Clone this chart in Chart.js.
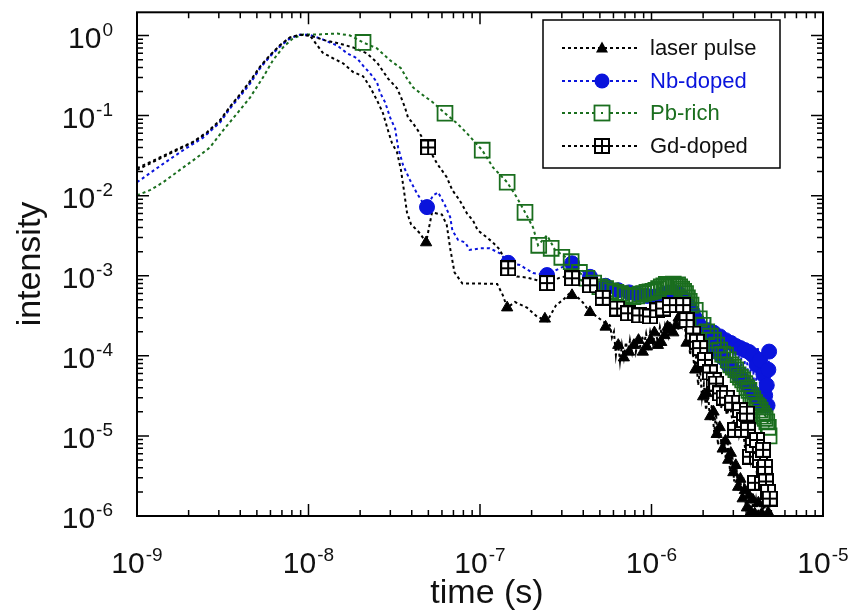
<!DOCTYPE html>
<html>
<head>
<meta charset="utf-8">
<title>intensity vs time</title>
<script src="https://cdn.jsdelivr.net/npm/chart.js@4.4.0/dist/chart.umd.min.js"></script>
<style>
  html, body { margin: 0; padding: 0; background: #fff; }
  #wrap { width: 858px; height: 613px; }
</style>
</head>
<body>
<div id="wrap"><canvas id="chart" width="858" height="613"></canvas></div>
<script>
// ---- axis ranges (log-log) ----
const xMin = 1e-9, xMax = 1e-5;
const yMin = 1e-6, yMax = 1.95;
const xDecades = [-9, -8, -7, -6, -5];
const yDecades = [-6, -5, -4, -3, -2, -1, 0];

// ---- laser pulse (black dotted, triangles) ----
const laserT = [
  1.0e-9, 1.27e-9, 1.62e-9, 2.12e-9, 2.56e-9, 3.05e-9, 3.49e-9, 3.99e-9, 4.56e-9, 5.22e-9,
  5.97e-9, 6.83e-9, 7.8e-9, 8.9e-9, 1.02e-8, 1.21e-8, 1.39e-8, 1.59e-8, 1.82e-8, 2.08e-8,
  2.28e-8, 2.51e-8, 2.72e-8, 2.91e-8, 3.07e-8, 3.28e-8, 3.46e-8, 3.60e-8, 3.75e-8, 3.96e-8,
  4.46e-8, 4.85e-8, 5.25e-8, 6.0e-8, 6.4e-8, 6.7e-8, 7.1e-8, 7.9e-8, 1.0e-7, 1.26e-7,
  1.36e-7, 1.44e-7, 1.60e-7, 1.88e-7, 2.15e-7, 2.46e-7, 2.78e-7, 3.05e-7, 3.35e-7, 3.68e-7,
  3.99e-7, 4.38e-7, 4.8e-7, 5.2e-7, 5.73e-7, 5.88e-7, 6.04e-7, 6.2e-7, 6.37e-7, 6.55e-7,
  6.72e-7, 6.9e-7, 7.1e-7, 7.3e-7, 7.49e-7, 7.7e-7, 7.91e-7, 8.1e-7, 8.35e-7, 8.57e-7,
  8.81e-7, 9.05e-7, 9.3e-7, 9.55e-7, 9.82e-7, 1.02e-6, 1.05e-6, 1.09e-6, 1.12e-6, 1.17e-6,
  1.20e-6, 1.25e-6, 1.28e-6, 1.34e-6, 1.37e-6, 1.43e-6, 1.47e-6, 1.51e-6, 1.55e-6, 1.59e-6,
  1.63e-6, 1.68e-6, 1.72e-6, 1.77e-6, 1.82e-6, 1.87e-6, 1.92e-6, 1.97e-6, 2.02e-6, 2.08e-6,
  2.14e-6, 2.19e-6, 2.25e-6, 2.32e-6, 2.38e-6, 2.44e-6, 2.51e-6, 2.58e-6, 2.64e-6, 2.72e-6,
  2.79e-6, 2.87e-6, 2.95e-6, 3.03e-6, 3.11e-6, 3.2e-6, 3.28e-6, 3.37e-6, 3.46e-6, 3.56e-6,
  3.65e-6, 3.75e-6, 3.85e-6, 3.96e-6, 4.07e-6, 4.18e-6, 4.29e-6, 4.41e-6, 4.53e-6, 4.65e-6,
  4.78e-6
];
const laserI = [
  0.021, 0.027, 0.035, 0.046, 0.060, 0.085, 0.127, 0.18, 0.26, 0.40,
  0.56, 0.75, 0.94, 1.02, 1.0, 0.61, 0.52, 0.45, 0.35, 0.31,
  0.23, 0.155, 0.107, 0.065, 0.045, 0.035, 0.021, 0.0117, 0.0062, 0.0044,
  0.0034, 0.0026, 0.0062, 0.0058, 0.0043, 0.0022, 0.0011, 8.0e-4, 8.0e-4, 7.9e-4,
  5.7e-4, 4.0e-4, 4.7e-4, 4.0e-4, 3.1e-4, 2.7e-4, 4.3e-4, 5.0e-4, 6.1e-4, 5.5e-4,
  4.6e-4, 3.5e-4, 3.1e-4, 2.7e-4, 2.4e-4, 1.7e-4, 2.0e-4, 1.02e-4, 1.57e-4, 8.5e-5,
  1.36e-4, 9.5e-5, 1.48e-4, 1.02e-4, 1.57e-4, 1.12e-4, 1.66e-4, 1.12e-4, 1.57e-4, 1.3e-4,
  1.75e-4, 1.4e-4, 1.9e-4, 1.36e-4, 2.0e-4, 1.4e-4, 2.1e-4, 1.48e-4, 2.3e-4, 1.57e-4,
  2.4e-4, 1.76e-4, 2.7e-4, 2.0e-4, 3.0e-4, 2.1e-4, 3.2e-4, 2.4e-4, 3.2e-4, 1.57e-4,
  2.1e-4, 1.02e-4, 1.48e-4, 7.7e-5, 9.7e-5, 4.3e-5, 6.7e-5, 3.0e-5, 4.4e-5, 2.1e-5,
  3.4e-5, 1.58e-5, 2.5e-5, 1.1e-5, 1.9e-5, 7.7e-6, 1.3e-5, 5.8e-6, 1.0e-5, 4.7e-6,
  8.0e-6, 3.6e-6, 6.3e-6, 2.7e-6, 4.9e-6, 2.0e-6, 3.3e-6, 1.6e-6, 2.4e-6, 1.24e-6,
  2.0e-6, 1.1e-6, 1.7e-6, 1.05e-6, 1.6e-6, 1.05e-6, 1.5e-6, 1.03e-6, 1.4e-6, 1.05e-6,
  1.35e-6
];
const laserMarkT = [
  4.85e-8, 1.44e-7, 2.39e-7, 3.44e-7, 4.38e-7, 5.4e-7, 6.4e-7, 6.9e-7, 7.4e-7, 7.9e-7,
  8.4e-7, 8.9e-7, 9.4e-7, 9.9e-7, 1.04e-6, 1.09e-6, 1.14e-6, 1.19e-6, 1.24e-6, 1.29e-6,
  1.34e-6, 1.39e-6, 1.44e-6, 1.5e-6, 1.6e-6, 1.7e-6, 1.8e-6, 1.9e-6, 2.0e-6, 2.1e-6,
  2.2e-6, 2.3e-6, 2.4e-6, 2.5e-6, 2.6e-6, 2.7e-6, 2.8e-6, 2.9e-6, 3.0e-6, 3.1e-6,
  3.2e-6, 3.3e-6, 3.4e-6, 3.5e-6, 3.6e-6, 3.7e-6, 3.8e-6, 3.9e-6, 4.0e-6, 4.2e-6,
  4.4e-6, 4.6e-6, 4.8e-6
];
const laserMarkI = [
  0.0026, 4.0e-4, 2.9e-4, 5.7e-4, 3.5e-4, 2.3e-4, 1.36e-4, 9.5e-5, 1.12e-4, 1.36e-4,
  1.57e-4, 1.12e-4, 1.3e-4, 1.57e-4, 1.95e-4, 1.36e-4, 1.48e-4, 1.8e-4, 2.3e-4, 2.1e-4,
  1.95e-4, 2.4e-4, 3.0e-4, 3.4e-4, 1.45e-4, 1.48e-4, 6.7e-5, 6.9e-5, 3.1e-5, 3.4e-5,
  1.75e-5, 2.0e-5, 1.05e-5, 1.28e-5, 6.9e-6, 8.7e-6, 5.0e-6, 6.1e-6, 3.5e-6, 4.3e-6,
  2.3e-6, 2.9e-6, 1.65e-6, 2.1e-6, 1.27e-6, 1.8e-6, 1.13e-6, 1.59e-6, 1.07e-6, 1.46e-6,
  1.07e-6, 1.43e-6, 1.1e-6
];

// ---- Nb-doped (blue dotted, filled circles) ----
const nbT = [
  1.0e-9, 1.42e-9, 1.86e-9, 2.43e-9, 3.05e-9, 3.49e-9, 3.99e-9, 4.56e-9, 5.22e-9, 5.97e-9,
  6.83e-9, 7.8e-9, 8.9e-9, 1.0e-8, 1.17e-8, 1.47e-8, 1.68e-8, 1.92e-8, 2.08e-8, 2.28e-8,
  2.51e-8, 2.61e-8, 2.8e-8, 2.99e-8, 3.2e-8, 3.33e-8, 3.56e-8, 3.91e-8, 4.29e-8, 4.65e-8,
  4.91e-8, 5.32e-8, 5.7e-8, 6.25e-8, 6.7e-8, 6.9e-8, 7.45e-8, 8.2e-8, 8.7e-8, 1.0e-7,
  1.14e-7, 1.31e-7, 1.46e-7, 1.71e-7, 2.04e-7, 2.46e-7, 2.93e-7, 3.44e-7, 4.38e-7, 5.5e-7,
  7.2e-7, 9.2e-7, 1.12e-6, 1.37e-6, 1.57e-6, 1.63e-6, 1.72e-6, 1.79e-6, 1.87e-6, 1.94e-6,
  2.02e-6, 2.11e-6, 2.19e-6, 2.28e-6, 2.38e-6, 2.48e-6, 2.58e-6, 2.68e-6, 2.79e-6, 2.91e-6,
  3.03e-6, 3.15e-6, 3.28e-6, 3.42e-6, 3.56e-6, 3.7e-6, 3.85e-6, 4.01e-6, 4.18e-6, 4.35e-6,
  4.53e-6, 4.72e-6, 4.85e-6
];
const nbI = [
  0.0147, 0.025, 0.037, 0.053, 0.082, 0.123, 0.174, 0.25, 0.39, 0.55,
  0.73, 0.92, 1.02, 1.03, 0.92, 0.75, 0.60, 0.52, 0.42, 0.34,
  0.26, 0.195, 0.146, 0.095, 0.069, 0.040, 0.024, 0.0156, 0.0107, 0.0081,
  0.0072, 0.0101, 0.0110, 0.0076, 0.0054, 0.0037, 0.0028, 0.0026, 0.0021, 0.0022,
  0.0022, 0.0019, 0.00145, 0.00136, 0.00108, 0.00102, 0.00125, 0.00143, 9.7e-4, 7.3e-4,
  6.2e-4, 5.5e-4, 5.7e-4, 6.3e-4, 5.0e-4, 4.3e-4, 3.5e-4, 2.3e-4, 3.2e-4, 1.66e-4,
  2.8e-4, 1.36e-4, 2.4e-4, 1.12e-4, 2.3e-4, 9.5e-5, 2.2e-4, 7.2e-5, 1.9e-4, 5.8e-5,
  1.75e-4, 4.6e-5, 1.57e-4, 4.0e-5, 1.48e-4, 3.3e-5, 1.36e-4, 2.8e-5, 1.25e-4, 2.4e-5,
  1.12e-4, 2.0e-5, 1.12e-4
];
const nbMarkT = [
  4.91e-8, 1.46e-7, 2.46e-7, 3.44e-7, 4.38e-7, 5.4e-7, 6.4e-7, 7.4e-7, 8.4e-7, 9.4e-7,
  1.04e-6, 1.14e-6, 1.24e-6, 1.34e-6, 1.44e-6, 1.54e-6, 1.64e-6, 1.74e-6, 1.84e-6, 1.9e-6,
  2.0e-6, 2.1e-6, 2.2e-6, 2.3e-6, 2.4e-6, 2.5e-6, 2.6e-6, 2.7e-6, 2.8e-6, 2.9e-6,
  3.0e-6, 3.1e-6, 3.2e-6, 3.3e-6, 3.4e-6, 3.5e-6, 3.6e-6, 3.7e-6, 3.8e-6, 3.9e-6,
  4.0e-6, 4.1e-6, 4.2e-6, 4.3e-6, 4.4e-6, 4.5e-6, 4.6e-6, 4.7e-6, 4.75e-6, 4.8e-6,
  4.85e-6
];
const nbMarkI = [
  0.0072, 0.00145, 0.00102, 0.00143, 9.7e-4, 7.5e-4, 6.6e-4, 6.2e-4, 5.8e-4, 5.6e-4,
  5.5e-4, 5.8e-4, 6.1e-4, 6.3e-4, 6.0e-4, 5.2e-4, 4.3e-4, 3.5e-4, 2.8e-4, 2.4e-4,
  1.66e-4, 2.1e-4, 1.36e-4, 1.95e-4, 1.12e-4, 1.75e-4, 9.5e-5, 1.57e-4, 7.7e-5, 1.45e-4,
  6.7e-5, 1.33e-4, 5.8e-5, 1.25e-4, 5.0e-5, 1.18e-4, 4.3e-5, 1.12e-4, 3.7e-5, 1.02e-4,
  3.2e-5, 7.7e-5, 2.8e-5, 8.9e-5, 2.4e-5, 5.8e-5, 3.2e-5, 4.3e-5, 2.4e-5, 6.7e-5,
  1.13e-4
];

// ---- Pb-rich (green dotted, open squares) ----
const pbT = [
  1.0e-9, 1.19e-9, 1.42e-9, 1.78e-9, 2.24e-9, 2.66e-9, 3.17e-9, 3.83e-9, 4.56e-9, 5.43e-9,
  6.2e-9, 7.1e-9, 8.1e-9, 9.3e-9, 1.12e-8, 1.47e-8, 1.75e-8, 2.08e-8, 2.51e-8, 2.99e-8,
  3.46e-8, 3.75e-8, 4.07e-8, 4.65e-8, 5.32e-8, 6.25e-8, 7.35e-8, 8.4e-8, 1.03e-7, 1.19e-7,
  1.44e-7, 1.64e-7, 1.83e-7, 2.04e-7, 2.18e-7, 2.46e-7, 2.74e-7, 3.35e-7, 3.83e-7, 4.8e-7,
  5.97e-7, 7.8e-7, 1.02e-6, 1.17e-6, 1.28e-6, 1.47e-6, 1.61e-6, 1.84e-6, 2.0e-6, 2.28e-6,
  2.71e-6, 3.15e-6, 3.37e-6, 3.65e-6, 4.29e-6, 4.65e-6, 4.85e-6
];
const pbI = [
  0.0101, 0.0117, 0.0147, 0.021, 0.030, 0.040, 0.065, 0.106, 0.168, 0.30,
  0.49, 0.71, 0.92, 1.03, 1.03, 1.06, 1.0, 0.82, 0.69, 0.49,
  0.39, 0.29, 0.225, 0.18, 0.146, 0.107, 0.080, 0.060, 0.037, 0.0226,
  0.0147, 0.0095, 0.0062, 0.0040, 0.0024, 0.0032, 0.0021, 0.00157, 0.00108, 7.3e-4,
  6.2e-4, 5.5e-4, 6.4e-4, 7.6e-4, 7.5e-4, 7.4e-4, 5.8e-4, 3.7e-4, 2.6e-4, 1.75e-4,
  1.18e-4, 7.4e-5, 5.0e-5, 3.7e-5, 2.3e-5, 1.72e-5, 1.28e-5
];
const pbMarkT = [
  2.08e-8, 6.25e-8, 1.03e-7, 1.44e-7, 1.83e-7, 2.2e-7, 2.6e-7, 3.0e-7, 3.4e-7, 3.8e-7,
  4.2e-7, 4.6e-7, 5.0e-7, 5.4e-7, 5.8e-7, 6.2e-7, 6.6e-7, 7.0e-7, 7.4e-7, 7.8e-7,
  8.2e-7, 8.6e-7, 9.0e-7, 9.4e-7, 9.8e-7, 1.02e-6, 1.06e-6, 1.1e-6, 1.14e-6, 1.18e-6,
  1.22e-6, 1.26e-6, 1.3e-6, 1.34e-6, 1.38e-6, 1.42e-6, 1.46e-6, 1.5e-6, 1.54e-6, 1.58e-6,
  1.62e-6, 1.66e-6, 1.7e-6, 1.8e-6, 1.9e-6, 2.0e-6, 2.1e-6, 2.2e-6, 2.3e-6, 2.4e-6,
  2.5e-6, 2.6e-6, 2.7e-6, 2.8e-6, 2.9e-6, 3.0e-6, 3.1e-6, 3.2e-6, 3.3e-6, 3.4e-6,
  3.5e-6, 3.6e-6, 3.7e-6, 3.8e-6, 3.9e-6, 4.0e-6, 4.1e-6, 4.2e-6, 4.3e-6, 4.4e-6,
  4.5e-6, 4.6e-6, 4.7e-6, 4.8e-6, 4.85e-6
];
const pbMarkI = [
  0.82, 0.107, 0.037, 0.0147, 0.0062, 0.0024, 0.0022, 0.0017, 0.0015, 0.0011,
  9.3e-4, 8.1e-4, 7.3e-4, 6.9e-4, 6.5e-4, 6.2e-4, 6.0e-4, 5.7e-4, 5.6e-4, 5.5e-4,
  5.6e-4, 5.9e-4, 6.0e-4, 6.2e-4, 6.3e-4, 6.4e-4, 6.6e-4, 6.9e-4, 7.3e-4, 7.5e-4,
  7.8e-4, 7.3e-4, 7.6e-4, 7.9e-4, 7.5e-4, 7.7e-4, 7.3e-4, 6.8e-4, 6.4e-4, 6.0e-4,
  5.3e-4, 4.8e-4, 4.3e-4, 3.7e-4, 2.9e-4, 2.4e-4, 2.0e-4, 1.76e-4, 1.57e-4, 1.36e-4,
  1.18e-4, 1.05e-4, 1.02e-4, 8.9e-5, 7.7e-5, 7.2e-5, 6.7e-5, 5.8e-5, 5.4e-5, 5.0e-5,
  4.5e-5, 4.0e-5, 3.7e-5, 3.2e-5, 2.9e-5, 2.6e-5, 2.4e-5, 2.3e-5, 2.1e-5, 1.9e-5,
  1.76e-5, 1.65e-5, 1.5e-5, 1.28e-5, 1.0e-5
];

// ---- Gd-doped (black dotted, crossed squares) ----
const gdT = [
  1.0e-9, 1.27e-9, 1.62e-9, 2.12e-9, 2.56e-9, 3.05e-9, 3.49e-9, 3.99e-9, 4.56e-9, 5.22e-9,
  5.97e-9, 6.83e-9, 7.8e-9, 8.9e-9, 1.02e-8, 1.25e-8, 1.53e-8, 1.82e-8, 2.19e-8, 2.51e-8,
  2.91e-8, 3.28e-8, 3.46e-8, 3.65e-8, 3.8e-8, 4.07e-8, 4.35e-8, 4.98e-8, 5.63e-8, 6.4e-8,
  6.9e-8, 7.6e-8, 8.4e-8, 9.1e-8, 9.7e-8, 1.1e-7, 1.19e-7, 1.31e-7, 1.46e-7, 1.64e-7,
  1.88e-7, 2.15e-7, 2.46e-7, 2.93e-7, 3.44e-7, 4.38e-7, 5.2e-7, 6.3e-7, 7.5e-7, 8.9e-7,
  1.08e-6, 1.34e-6, 1.53e-6, 1.68e-6, 1.92e-6, 1.99e-6, 2.08e-6, 2.16e-6, 2.25e-6, 2.35e-6,
  2.44e-6, 2.54e-6, 2.64e-6, 2.75e-6, 2.87e-6, 2.99e-6, 3.11e-6, 3.24e-6, 3.37e-6, 3.51e-6,
  3.65e-6, 3.8e-6, 3.96e-6, 4.12e-6, 4.29e-6, 4.47e-6, 4.59e-6, 4.72e-6, 4.85e-6
];
const gdI = [
  0.022, 0.028, 0.036, 0.047, 0.062, 0.088, 0.13, 0.185, 0.27, 0.41,
  0.57, 0.76, 0.95, 1.02, 1.0, 0.87, 0.79, 0.71, 0.60, 0.46,
  0.29, 0.22, 0.17, 0.127, 0.095, 0.08, 0.065, 0.040, 0.025, 0.017,
  0.0117, 0.0088, 0.0060, 0.0049, 0.0037, 0.0030, 0.0026, 0.0021, 0.00125, 9.8e-4,
  9.5e-4, 8.8e-4, 8.1e-4, 9.5e-4, 1.02e-3, 7.6e-4, 5.3e-4, 3.9e-4, 3.2e-4, 3.0e-4,
  3.6e-4, 4.6e-4, 4.3e-4, 2.6e-4, 1.25e-4, 7.6e-5, 8.9e-5, 4.7e-5, 5.3e-5, 3.0e-5,
  3.7e-5, 2.2e-5, 3.0e-5, 1.83e-5, 2.4e-5, 1.37e-5, 2.1e-5, 1.03e-5, 1.58e-5, 7.1e-6,
  1.28e-5, 5.0e-6, 8.9e-6, 3.3e-6, 6.3e-6, 2.2e-6, 4.0e-6, 1.59e-6, 2.4e-6
];
const gdMarkT = [
  4.98e-8, 1.46e-7, 2.46e-7, 3.44e-7, 4.38e-7, 5.2e-7, 6.3e-7, 7.3e-7, 8.5e-7, 9.8e-7,
  1.08e-6, 1.17e-6, 1.28e-6, 1.4e-6, 1.53e-6, 1.6e-6, 1.75e-6, 1.84e-6, 1.92e-6, 2.05e-6,
  2.19e-6, 2.3e-6, 2.38e-6, 2.51e-6, 2.64e-6, 2.75e-6, 2.95e-6, 3.07e-6, 3.28e-6, 3.46e-6,
  3.6e-6, 3.65e-6, 3.75e-6, 3.9e-6, 4.01e-6, 4.12e-6, 4.29e-6, 4.47e-6, 4.53e-6, 4.59e-6,
  4.65e-6, 4.78e-6, 4.9e-6
];
const gdMarkI = [
  0.040, 1.24e-3, 8.1e-4, 9.3e-4, 7.6e-4, 5.3e-4, 3.9e-4, 3.4e-4, 3.2e-4, 3.1e-4,
  3.7e-4, 3.9e-4, 4.3e-4, 4.3e-4, 4.3e-4, 2.8e-4, 1.9e-4, 1.5e-4, 1.25e-4, 8.9e-5,
  6.2e-5, 5.0e-5, 4.5e-5, 3.4e-5, 3.0e-5, 3.0e-5, 2.6e-5, 1.19e-5, 2.1e-5, 1.58e-5,
  1.9e-5, 1.19e-5, 5.5e-6, 7.7e-6, 2.6e-6, 8.9e-6, 5.0e-6, 6.7e-6, 3.8e-6, 4.1e-6,
  2.7e-6, 2.0e-6, 1.65e-6
];

// ---- look ----
const FONT = '"Liberation Sans", Arial, Helvetica, sans-serif';
const BLACK = '#000000';
const BLUE = '#0a14dc';
const GREEN = '#1a6e1e';
const DASH = [3, 3];

function pts(t, v) {
  return t.map((x, i) => ({ x: x, y: v[i] }));
}

// crossed square marker for Gd-doped (white cells, black frame and cross)
function makeGdIcon() {
  const c = document.createElement('canvas');
  c.width = 16; c.height = 16;
  const g = c.getContext('2d');
  g.fillStyle = '#fff';
  g.fillRect(0, 0, 16, 16);
  g.fillStyle = '#000';
  g.fillRect(0, 0, 16, 2); g.fillRect(0, 14, 16, 2);
  g.fillRect(0, 0, 2, 16); g.fillRect(14, 0, 2, 16);
  g.fillRect(7, 0, 2, 16); g.fillRect(0, 7, 16, 2);
  return c;
}
const gdIcon = makeGdIcon();

function lineSet(label, data, color, order) {
  return {
    label: label, data: data, showLine: true, borderColor: color, borderWidth: 2,
    borderDash: DASH, pointRadius: 0, tension: 0, fill: false, order: order
  };
}
function markSet(label, data, style, order) {
  return Object.assign({ label: label, data: data, showLine: false, order: order }, style);
}

const styleLaser = { pointStyle: 'triangle', pointRadius: 6.5, backgroundColor: BLACK, borderColor: BLACK, borderWidth: 1 };
const styleNb = { pointStyle: 'circle', pointRadius: 7.5, backgroundColor: BLUE, borderColor: BLUE, borderWidth: 1 };
const stylePb = { pointStyle: 'rect', pointRadius: 10.5, backgroundColor: 'rgba(0,0,0,0)', borderColor: GREEN, borderWidth: 1.8 };
const styleGd = { pointStyle: gdIcon, pointRadius: 8 };

// ---- frame, inward ticks and power-of-ten labels ----
function powLabel(ctx, exp, x, y, align) {
  ctx.font = '30px ' + FONT;
  const w1 = ctx.measureText('10').width;
  ctx.font = '19px ' + FONT;
  const s = String(exp);
  const w2 = ctx.measureText(s).width;
  const x0 = align === 'right' ? x - w1 - w2 - 1 : x - (w1 + w2 + 1) / 2;
  ctx.font = '30px ' + FONT;
  ctx.fillText('10', x0, y);
  ctx.font = '19px ' + FONT;
  ctx.fillText(s, x0 + w1 + 1, y - 12);
}

const framePlugin = {
  id: 'frame',
  afterDatasetsDraw(chart) {
    const ctx = chart.ctx;
    const a = chart.chartArea;
    const xs = chart.scales.x, ys = chart.scales.y;
    ctx.save();
    ctx.strokeStyle = '#000';
    ctx.lineWidth = 1.5;
    ctx.beginPath();
    for (let e = -9; e <= -5; e++) {
      for (let m = 1; m <= 9; m++) {
        const v = m * Math.pow(10, e);
        if (v > xMax * 1.001) break;
        const px = xs.getPixelForValue(v);
        const len = m === 1 ? 12 : 6;
        ctx.moveTo(px, a.bottom); ctx.lineTo(px, a.bottom - len);
        ctx.moveTo(px, a.top); ctx.lineTo(px, a.top + len);
      }
    }
    for (let e = -6; e <= 0; e++) {
      for (let m = 1; m <= 9; m++) {
        const v = m * Math.pow(10, e);
        if (v > yMax) break;
        const py = ys.getPixelForValue(v);
        const len = m === 1 ? 12 : 6;
        ctx.moveTo(a.left, py); ctx.lineTo(a.left + len, py);
        ctx.moveTo(a.right, py); ctx.lineTo(a.right - len, py);
      }
    }
    ctx.stroke();
    ctx.lineWidth = 2;
    ctx.strokeRect(a.left, a.top, a.right - a.left, a.bottom - a.top);

    ctx.fillStyle = '#111';
    ctx.textAlign = 'left';
    ctx.textBaseline = 'alphabetic';
    xDecades.forEach(e => powLabel(ctx, e, xs.getPixelForValue(Math.pow(10, e)), a.bottom + 57, 'center'));
    yDecades.forEach(e => powLabel(ctx, e, 113, ys.getPixelForValue(Math.pow(10, e)) + 12, 'right'));

    ctx.font = '34px ' + FONT;
    ctx.textAlign = 'center';
    ctx.fillText('time (s)', 487, 603);
    ctx.translate(40, 264);
    ctx.rotate(-Math.PI / 2);
    ctx.fillText('intensity', 0, 0);
    ctx.restore();
  }
};

// ---- legend box: dotted line with marker in the middle ----
const legendItems = [
  { text: 'laser pulse', color: BLACK, textColor: '#111', marker: 'triangle' },
  { text: 'Nb-doped', color: BLUE, textColor: BLUE, marker: 'circle' },
  { text: 'Pb-rich', color: GREEN, textColor: GREEN, marker: 'square' },
  { text: 'Gd-doped', color: BLACK, textColor: '#111', marker: 'gd' }
];

const legendPlugin = {
  id: 'boxLegend',
  afterDraw(chart) {
    const ctx = chart.ctx;
    ctx.save();
    ctx.fillStyle = '#fff';
    ctx.fillRect(543, 20, 237, 148);
    ctx.strokeStyle = '#000';
    ctx.lineWidth = 1.5;
    ctx.strokeRect(543, 20, 237, 148);
    const rows = [48, 81, 113, 146];
    legendItems.forEach((it, i) => {
      const y = rows[i];
      ctx.strokeStyle = it.color;
      ctx.lineWidth = 2;
      ctx.setLineDash(DASH);
      ctx.beginPath();
      ctx.moveTo(562, y); ctx.lineTo(638, y);
      ctx.stroke();
      ctx.setLineDash([]);
      const mx = 602;
      if (it.marker === 'triangle') {
        ctx.fillStyle = it.color;
        ctx.beginPath();
        ctx.moveTo(mx, y - 6.5); ctx.lineTo(mx + 6, y + 4.5); ctx.lineTo(mx - 6, y + 4.5);
        ctx.closePath(); ctx.fill();
      } else if (it.marker === 'circle') {
        ctx.fillStyle = it.color;
        ctx.beginPath(); ctx.arc(mx, y, 7.5, 0, Math.PI * 2); ctx.fill();
      } else if (it.marker === 'square') {
        ctx.fillStyle = '#fff';
        ctx.fillRect(mx - 7.5, y - 7.5, 15, 15);
        ctx.strokeStyle = it.color; ctx.lineWidth = 1.8;
        ctx.strokeRect(mx - 7.5, y - 7.5, 15, 15);
        ctx.fillStyle = it.color;
        ctx.fillRect(mx - 1, y - 1, 2, 2);
      } else {
        ctx.drawImage(gdIcon, mx - 8, y - 8);
      }
      ctx.fillStyle = it.textColor;
      ctx.font = '22px ' + FONT;
      ctx.textAlign = 'left';
      ctx.textBaseline = 'middle';
      ctx.fillText(it.text, 650, y + 1);
    });
    ctx.restore();
  }
};

new Chart(document.getElementById('chart'), {
  type: 'scatter',
  data: {
    datasets: [
      markSet('Gd-doped', pts(gdMarkT, gdMarkI), styleGd, 0),
      markSet('Pb-rich', pts(pbMarkT, pbMarkI), stylePb, 1),
      markSet('Nb-doped', pts(nbMarkT, nbMarkI), styleNb, 2),
      markSet('laser pulse', pts(laserMarkT, laserMarkI), styleLaser, 3),
      lineSet('Gd-doped', pts(gdT, gdI), BLACK, 4),
      lineSet('Pb-rich', pts(pbT, pbI), GREEN, 5),
      lineSet('Nb-doped', pts(nbT, nbI), BLUE, 6),
      lineSet('laser pulse', pts(laserT, laserI), BLACK, 7)
    ]
  },
  options: {
    responsive: false,
    animation: false,
    layout: { padding: { left: 137, top: 12, right: 35, bottom: 97 } },
    plugins: { legend: { display: false }, tooltip: { enabled: false } },
    scales: {
      x: { type: 'logarithmic', min: xMin, max: xMax, display: false },
      y: { type: 'logarithmic', min: yMin, max: yMax, display: false }
    }
  },
  plugins: [framePlugin, legendPlugin]
});
</script>
</body>
</html>
